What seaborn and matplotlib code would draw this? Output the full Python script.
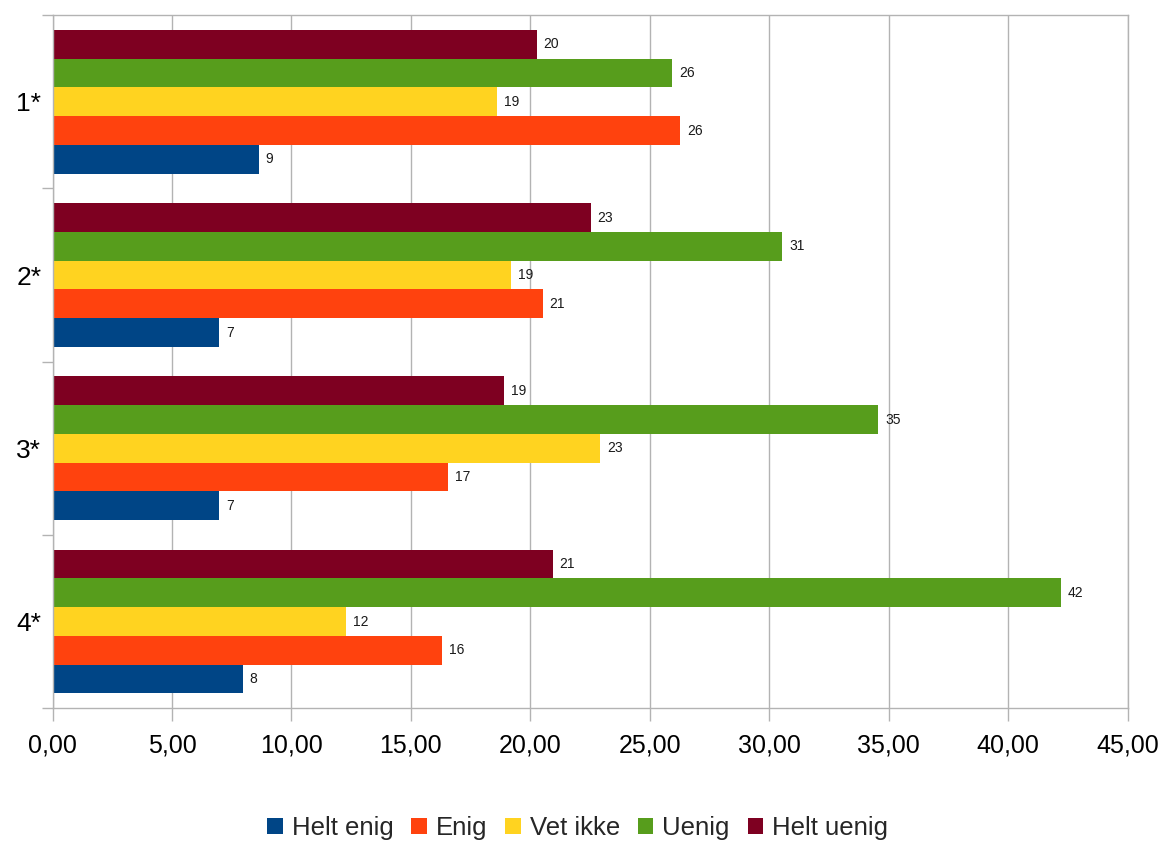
import matplotlib
matplotlib.use("Agg")
import matplotlib.pyplot as plt
from matplotlib.patches import Patch
from matplotlib.ticker import FuncFormatter, FixedLocator
import pandas as pd
import seaborn as sns

# Survey statements and response shares
categories = ["1*", "2*", "3*", "4*"]
responses = ["Helt enig", "Enig", "Vet ikke", "Uenig", "Helt uenig"]
helt_enig = [8.63, 6.96, 6.96, 7.96]
enig = [26.26, 20.52, 16.56, 16.30]
vet_ikke = [18.60, 19.18, 22.91, 12.28]
uenig = [25.93, 30.55, 34.57, 42.21]
helt_uenig = [20.27, 22.53, 18.91, 20.94]

colors = {
    "Helt enig": "#004586",
    "Enig": "#ff420e",
    "Vet ikke": "#ffd320",
    "Uenig": "#579d1c",
    "Helt uenig": "#7e0021",
}

series = dict(zip(responses, [helt_enig, enig, vet_ikke, uenig, helt_uenig]))
rows = []
for resp, vals in series.items():
    for cat, v in zip(categories, vals):
        rows.append({"kategori": cat, "svar": resp, "andel": v})
df = pd.DataFrame(rows)

sns.set_theme(style="white")
plt.rcParams["font.family"] = ["Liberation Sans", "DejaVu Sans"]

fig = plt.figure(figsize=(11.6, 8.44), dpi=100)
ax = fig.add_axes([0.0453, 0.161, 0.9267, 0.821])

# Top bar in each group is "Helt uenig", bottom is "Helt enig"
plot_order = responses[::-1]
sns.barplot(
    data=df, y="kategori", x="andel", hue="svar",
    order=categories, hue_order=plot_order,
    palette=colors, orient="h", width=0.83, gap=0,
    saturation=1, legend=False, ax=ax, linewidth=0,
)

for cont in ax.containers:
    vals = cont.datavalues
    ax.bar_label(cont, labels=[f"{v:.0f}" for v in vals], padding=5,
                 fontsize=10, color="#1a1a1a")

ax.set_xlim(0, 45)
ax.set_ylim(3.5, -0.5)
ax.set_xticks(range(0, 46, 5))
ax.xaxis.set_major_formatter(FuncFormatter(lambda v, p: f"{v:.2f}".replace(".", ",")))
ax.set_xlabel("")
ax.set_ylabel("")

ax.grid(axis="x", color="#b3b3b3", linewidth=1)
ax.set_axisbelow(True)
for s in ax.spines.values():
    s.set_color("#b3b3b3")
    s.set_linewidth(1)

ax.tick_params(axis="x", which="major", bottom=True, direction="out",
               length=9, width=1, color="#b3b3b3",
               labelsize=18, pad=9, labelcolor="#000000")
ax.tick_params(axis="y", which="major", left=False, length=0, labelsize=19,
               pad=8, labelcolor="#000000")
ax.yaxis.set_minor_locator(FixedLocator([-0.5, 0.5, 1.5, 2.5, 3.5]))
ax.tick_params(axis="y", which="minor", left=True, direction="out",
               length=8, width=1, color="#b3b3b3")

handles = [Patch(facecolor=colors[r], edgecolor="none", label=r) for r in responses]
fig.legend(handles=handles, loc="center", bbox_to_anchor=(0.498, 0.019),
           ncol=5, frameon=False, fontsize=18.5, handlelength=0.6,
           handleheight=0.6, handletextpad=0.35, columnspacing=0.7)

fig.savefig("out.png", dpi=100)
